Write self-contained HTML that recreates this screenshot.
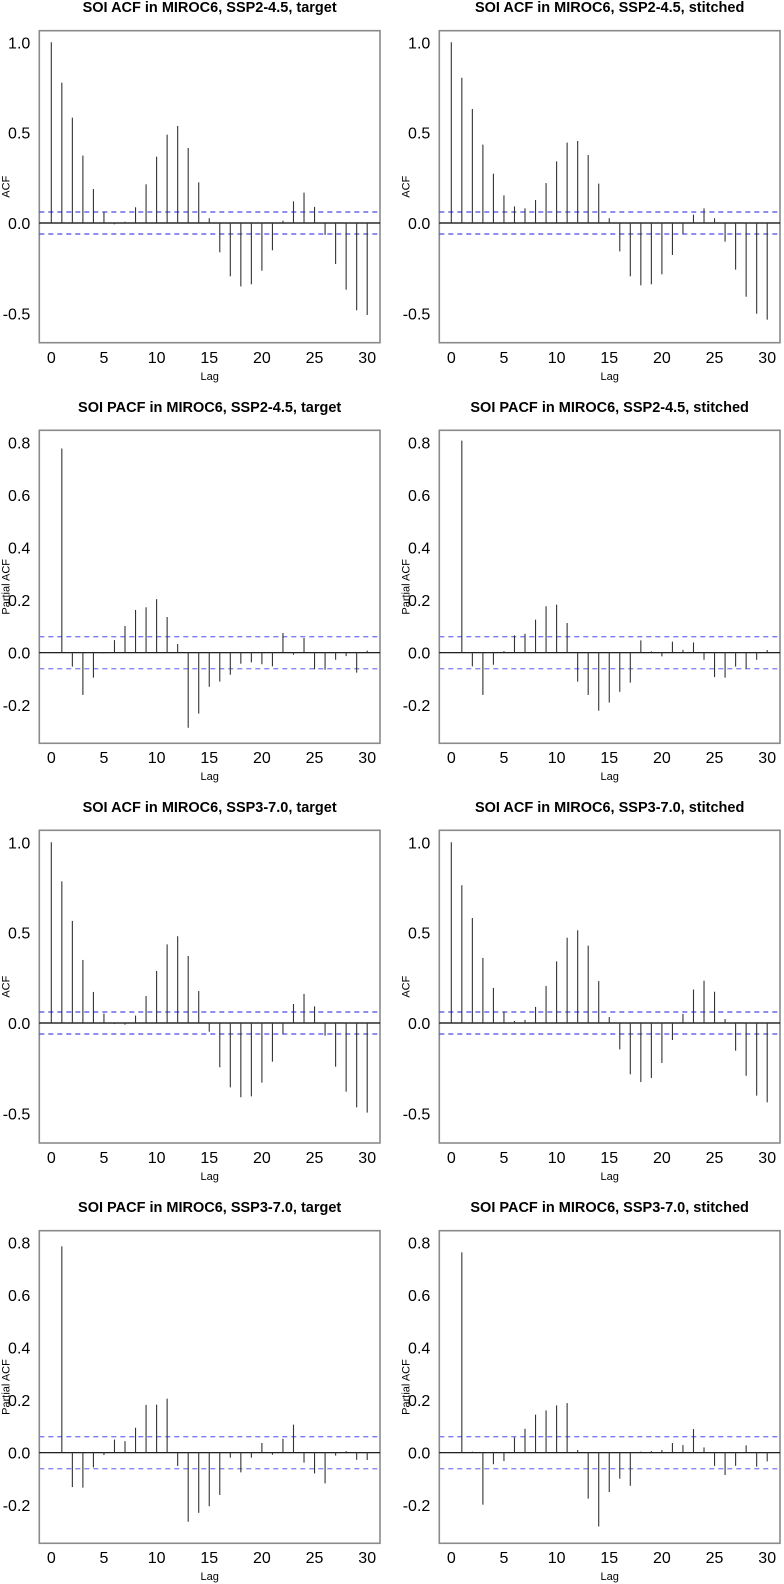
<!DOCTYPE html>
<html><head><meta charset="utf-8">
<style>
html,body{margin:0;padding:0;background:#fff;}
svg{display:block;font-family:"Liberation Sans",Arial,sans-serif;}
</style></head>
<body>
<svg id="chart" width="784" height="1584" viewBox="0 0 784 1584" xmlns="http://www.w3.org/2000/svg"></svg>
<script>
const lags = [0,1,2,3,4,5,6,7,8,9,10,11,12,13,14,15,16,17,18,19,20,21,22,23,24,25,26,27,28,29,30];
const xTicks = [0,5,10,15,20,25,30];
const acfTicks = [1.0,0.5,0.0,-0.5];
const acfTickLabels = ["1.0","0.5","0.0","-0.5"];
const pacfTicks = [0.8,0.6,0.4,0.2,0.0,-0.2];
const pacfTickLabels = ["0.8","0.6","0.4","0.2","0.0","-0.2"];
const confLimit = 0.061;

const acf245Target = [1.0,0.777,0.583,0.373,0.188,0.061,-0.007,0.007,0.087,0.214,0.367,0.489,0.537,0.415,0.225,0.026,-0.162,-0.295,-0.351,-0.339,-0.264,-0.151,0.013,0.12,0.168,0.089,-0.066,-0.227,-0.369,-0.483,-0.509];
const acf245Stitched = [1.0,0.804,0.631,0.434,0.273,0.153,0.092,0.081,0.127,0.221,0.341,0.445,0.454,0.376,0.218,0.026,-0.157,-0.295,-0.345,-0.339,-0.284,-0.177,-0.061,0.046,0.081,0.026,-0.103,-0.258,-0.408,-0.502,-0.535];
const pacf245Target = [0.778,-0.053,-0.161,-0.095,-0.003,0.048,0.102,0.163,0.173,0.204,0.136,0.033,-0.286,-0.232,-0.13,-0.11,-0.084,-0.042,-0.037,-0.044,-0.052,0.075,-0.008,0.056,-0.063,-0.065,-0.027,-0.013,-0.076,0.008];
const pacf245Stitched = [0.808,-0.052,-0.161,-0.046,0.006,0.066,0.072,0.126,0.177,0.183,0.113,-0.11,-0.161,-0.221,-0.19,-0.149,-0.114,0.047,0.005,-0.014,0.042,0.011,0.039,-0.027,-0.093,-0.095,-0.053,-0.061,-0.027,0.01];
const acf370Target = [1.0,0.784,0.565,0.349,0.172,0.052,-0.006,-0.009,0.041,0.149,0.288,0.435,0.48,0.371,0.177,-0.048,-0.245,-0.356,-0.411,-0.406,-0.33,-0.214,-0.061,0.105,0.161,0.092,-0.07,-0.242,-0.38,-0.467,-0.496];
const acf370Stitched = [1.0,0.762,0.581,0.36,0.194,0.063,0.011,0.017,0.089,0.205,0.341,0.472,0.513,0.428,0.232,0.033,-0.146,-0.284,-0.327,-0.304,-0.221,-0.094,0.05,0.185,0.234,0.173,0.022,-0.153,-0.292,-0.402,-0.439];
const pacf370Target = [0.786,-0.131,-0.133,-0.056,-0.009,0.05,0.044,0.095,0.182,0.183,0.206,-0.05,-0.263,-0.229,-0.204,-0.161,-0.019,-0.075,-0.019,0.037,-0.008,0.053,0.107,-0.038,-0.079,-0.117,-0.011,0.006,-0.027,-0.028];
const pacf370Stitched = [0.763,0.004,-0.198,-0.044,-0.032,0.058,0.091,0.145,0.161,0.18,0.189,0.01,-0.175,-0.281,-0.15,-0.099,-0.126,0.004,0.006,0.01,0.037,0.029,0.09,0.02,-0.05,-0.085,-0.05,0.028,-0.053,-0.033];

const NS = "http://www.w3.org/2000/svg";
const svg = document.getElementById("chart");
function mk(tag, attrs, parent){
  const e = document.createElementNS(NS, tag);
  for (const k in attrs) e.setAttribute(k, attrs[k]);
  (parent||svg).appendChild(e);
  return e;
}

const panels = [
  {title:"SOI ACF in MIROC6, SSP2-4.5, target", col:0, top:30.7, bot:342.7, zero:223, scale:180.7, titleY:12, tickY:363, lagY:380, kind:"acf", vals:acf245Target, startLag:0, name:"acf-ssp245-target"},
  {title:"SOI ACF in MIROC6, SSP2-4.5, stitched", col:1, top:30.7, bot:342.7, zero:223, scale:180.7, titleY:12, tickY:363, lagY:380, kind:"acf", vals:acf245Stitched, startLag:0, name:"acf-ssp245-stitched"},
  {title:"SOI PACF in MIROC6, SSP2-4.5, target", col:0, top:430.3, bot:743.3, zero:652.7, scale:262.5, titleY:412, tickY:763, lagY:780, kind:"pacf", vals:pacf245Target, startLag:1, name:"pacf-ssp245-target"},
  {title:"SOI PACF in MIROC6, SSP2-4.5, stitched", col:1, top:430.3, bot:743.3, zero:652.7, scale:262.5, titleY:412, tickY:763, lagY:780, kind:"pacf", vals:pacf245Stitched, startLag:1, name:"pacf-ssp245-stitched"},
  {title:"SOI ACF in MIROC6, SSP3-7.0, target", col:0, top:830.3, bot:1143, zero:1023, scale:180.7, titleY:812, tickY:1163, lagY:1180, kind:"acf", vals:acf370Target, startLag:0, name:"acf-ssp370-target"},
  {title:"SOI ACF in MIROC6, SSP3-7.0, stitched", col:1, top:830.3, bot:1143, zero:1023, scale:180.7, titleY:812, tickY:1163, lagY:1180, kind:"acf", vals:acf370Stitched, startLag:0, name:"acf-ssp370-stitched"},
  {title:"SOI PACF in MIROC6, SSP3-7.0, target", col:0, top:1230.7, bot:1543.3, zero:1452.7, scale:262.5, titleY:1212, tickY:1563, lagY:1580, kind:"pacf", vals:pacf370Target, startLag:1, name:"pacf-ssp370-target"},
  {title:"SOI PACF in MIROC6, SSP3-7.0, stitched", col:1, top:1230.7, bot:1543.3, zero:1452.7, scale:262.5, titleY:1212, tickY:1563, lagY:1580, kind:"pacf", vals:pacf370Stitched, startLag:1, name:"pacf-ssp370-stitched"}
];

panels.forEach(p => {
  const off = p.col === 0 ? 0 : 400;
  const left = 39.3 + off, right = 380 + off;
  const x0 = 51.3 + off, dx = 10.53;
  const xs = l => x0 + l * dx;
  const ys = v => p.zero - v * p.scale;
  const g = mk("g", {});
  
  

  const t = mk("text", {x:(left+right)/2, y:p.titleY, "text-anchor":"middle", "font-size":"14.5", "font-weight":"bold", fill:"#000"}, g);
  t.textContent = p.title;
  
  

  const box = mk("rect", {x:left, y:p.top, width:right-left, height:p.bot-p.top, fill:"none", stroke:"#8a8a8a", "stroke-width":"1.6"}, g);
  
  

  const ticks = p.kind === "acf" ? acfTicks : pacfTicks;
  const tlabels = p.kind === "acf" ? acfTickLabels : pacfTickLabels;
  ticks.forEach((v, i) => {
    const tl = mk("text", {x:left - 9, y:ys(v) + 6, "text-anchor":"end", "font-size":"16", fill:"#000"}, g);
    tl.textContent = tlabels[i];
    
    
  });
  xTicks.forEach(v => {
    const tl = mk("text", {x:xs(v), y:p.tickY, "text-anchor":"middle", "font-size":"16", fill:"#000"}, g);
    tl.textContent = String(v);
    
    
  });
  const lag = mk("text", {x:(left+right)/2, y:p.lagY, "text-anchor":"middle", "font-size":"11", fill:"#000"}, g);
  lag.textContent = "Lag";
  
  
  const yt = mk("text", {transform:`translate(${left-30},${(p.top+p.bot)/2}) rotate(-90)`, "text-anchor":"middle", "font-size":"11", fill:"#000"}, g);
  yt.textContent = p.kind === "acf" ? "ACF" : "Partial ACF";
  
  

  const zl = mk("line", {x1:left, x2:right, y1:ys(0), y2:ys(0), stroke:"#000", "stroke-width":"1.2"}, g);
  
  
  [confLimit, -confLimit].forEach(c => {
    const cl = mk("line", {x1:left, x2:right, y1:ys(c), y2:ys(c), stroke: p.kind==="acf" ? "#4a4ae6" : "#7b7bf5", "stroke-width":"1.3", "stroke-dasharray":"5,4"}, g);
    
    
  });

  p.vals.forEach((v, i) => {
    const l = lags[i + p.startLag];
    const b = mk("line", {x1:xs(l), x2:xs(l), y1:ys(0), y2:ys(v), stroke:"#333", "stroke-width":"1.1"}, g);
    
    
  });
});
</script>
</body></html>
